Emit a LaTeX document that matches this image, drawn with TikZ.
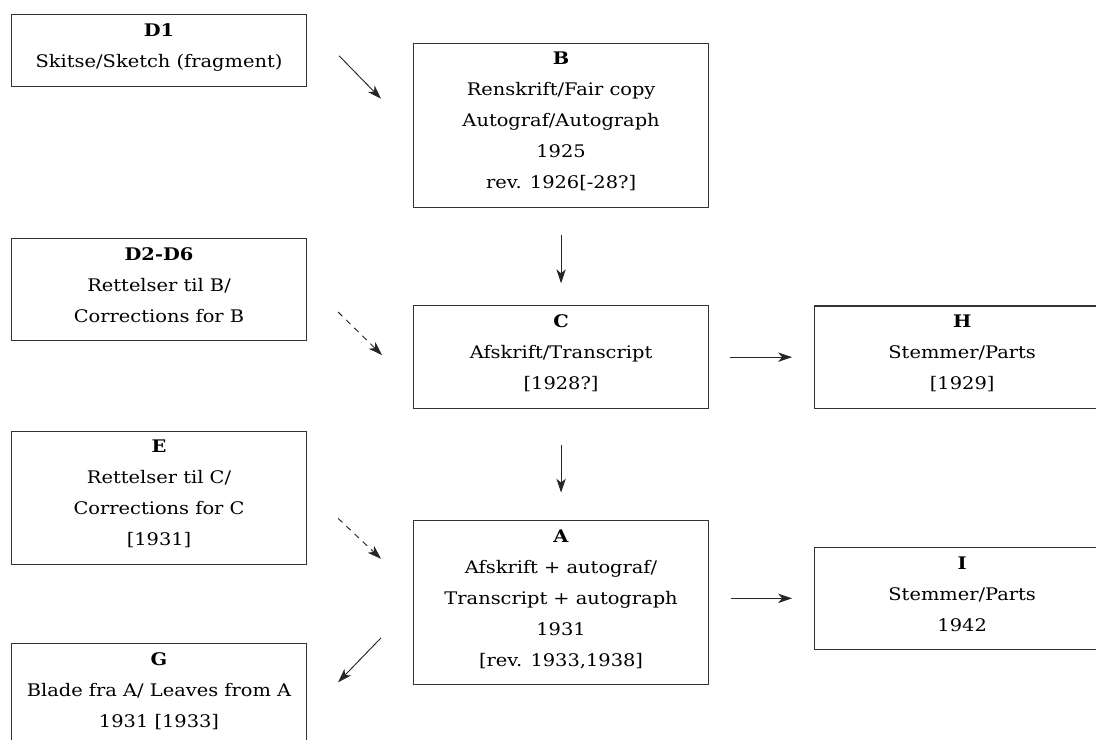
\documentclass[tikz,border=0pt]{standalone}
\usepackage{fontspec}
\setmainfont{DejaVu Serif}[FakeStretch=1.12]
\usetikzlibrary{positioning, arrows.meta}

\begin{document}
\begin{tikzpicture}[
  src/.style={draw=black!80, line width=0.8pt, minimum width=221.25pt,
              inner xsep=2pt, inner ysep=6.9pt, align=center,
              font=\fontsize{13}{23.25}\selectfont,
              execute at begin node=\strut, execute at end node=\strut},
  arr/.style={-{Stealth[length=10.5pt, width=7pt, inset=3pt]}, line width=0.7pt, color=black!85},
  arr_dashed/.style={arr, dash pattern=on 4.5pt off 4pt},
]

% Frame
\useasboundingbox (0,0) rectangle (822pt,-554.25pt);
\clip (0,0) rectangle (822pt,-554.25pt);

% Sketches and corrections
\node[src, anchor=north west] (d1) at (8.25pt,-10.5pt)
  {\textbf{D1}\\Skitse/Sketch (fragment)};
\node[src, below=113.25pt of d1] (d2)
  {\textbf{D2-D6}\\Rettelser til B/\\Corrections for B};
\node[src, below=67pt of d2] (e)
  {\textbf{E}\\Rettelser til C/\\Corrections for C\\{[1931]}};
\node[src, below=58.5pt of e] (g)
  {\textbf{G}\\Blade fra A/ Leaves from A\\1931 [1933]};

% Main sources
\node[src, right=79.5pt of d1, yshift=-56.25pt] (b)
  {\textbf{B}\\Renskrift/Fair copy\\Autograf/Autograph\\1925\\rev. 1926[-28?]};
\node[src, below=73pt of b] (c)
  {\textbf{C}\\Afskrift/Transcript\\{[1928?]}};
\node[src, below=83pt of c] (a)
  {\textbf{A}\\Afskrift + autograf/\\Transcript + autograph\\1931\\{[rev. 1933,1938]}};

% Parts
\node[src, right=78.75pt of c] (h)
  {\textbf{H}\\Stemmer/Parts\\{[1929]}};
\node[src, right=78.75pt of a, yshift=3pt] (i)
  {\textbf{I}\\Stemmer/Parts\\1942};

% Arrows
\draw[arr] ([shift={(24pt,-4.1pt)}]d1.east) -- ([shift={(-24pt,19.9pt)}]b.west);
\draw[arr, shorten <=20pt, shorten >=16.5pt] (b.south) -- (c.north);
\draw[arr_dashed] ([shift={(23.25pt,-16.9pt)}]d2.east) -- ([shift={(-23.25pt,1.5pt)}]c.west);
\draw[arr, shorten <=15.75pt, shorten >=16.5pt] (c) -- (h);
\draw[arr, shorten <=27pt, shorten >=20.25pt] (c.south) -- (a.north);
\draw[arr_dashed] ([shift={(23.25pt,-15.4pt)}]e.east) -- ([shift={(-24pt,32.6pt)}]a.west);
\draw[arr] ([shift={(-24pt,-26.6pt)}]a.west) -- ([shift={(23.25pt,9.4pt)}]g.east);
\draw[arr, shorten <=16.5pt, shorten >=16.5pt] (i.west -| a.east) -- (i.west);

\end{tikzpicture}
\end{document}
